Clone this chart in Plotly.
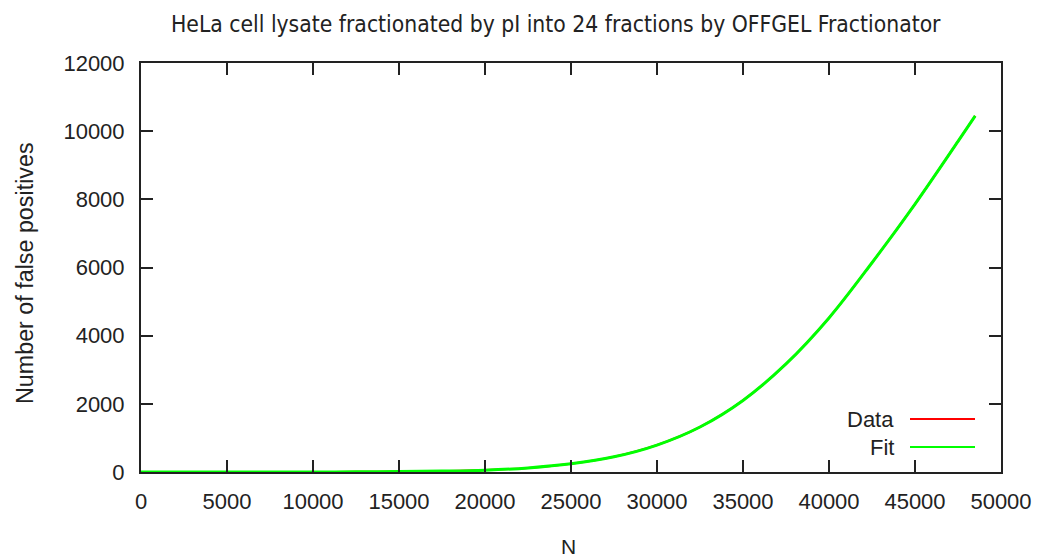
import plotly.graph_objects as go

# Data
n_values = [0, 2500, 5000, 7500, 10000, 12500, 15000, 17500, 20000, 22500, 25000,
            27500, 30000, 32500, 35000, 37500, 40000, 42500, 45000, 47500, 48500]
data_fp = [0, 0, 0, 1, 2, 5, 12, 28, 56, 121, 242,
           446, 790, 1320, 2100, 3170, 4520, 6140, 7860, 9700, 10450]
fit_fp = [0, 0, 0, 1, 2, 5, 12, 27, 55, 120, 240,
          445, 790, 1320, 2100, 3170, 4520, 6140, 7860, 9700, 10450]

x_ticks = [0, 5000, 10000, 15000, 20000, 25000, 30000, 35000, 40000, 45000, 50000]
y_ticks = [0, 2000, 4000, 6000, 8000, 10000, 12000]

title_text = "HeLa cell lysate fractionated by pI into 24 fractions by OFFGEL Fractionator"
x_title = "N"
y_title = "Number of false positives"
legend_names = ["Data", "Fit"]
line_colors = ["#ff0000", "#00ff00"]

W, H = 1038, 557
ml, mr, mt, mb = 141, 37, 63, 85

fig = go.Figure()
fig.add_trace(go.Scatter(x=n_values, y=data_fp, mode="lines", name=legend_names[0],
                         line=dict(color=line_colors[0], width=2, shape="spline")))
fig.add_trace(go.Scatter(x=n_values, y=fit_fp, mode="lines", name=legend_names[1],
                         line=dict(color=line_colors[1], width=3, shape="spline")))

axis_common = dict(showgrid=False, zeroline=False, showline=True, linecolor="#222",
                   linewidth=2, mirror="ticks", ticks="inside", ticklen=12,
                   tickwidth=2, tickcolor="#222", automargin=False,
                   tickfont=dict(family="Liberation Sans", size=22, color="#222"))

fig.update_layout(
    width=W, height=H,
    margin=dict(l=ml, r=mr, t=mt, b=mb, autoexpand=False),
    paper_bgcolor="white", plot_bgcolor="white",
    showlegend=False,
    xaxis=dict(range=[0, 50000], tickvals=x_ticks, ticktext=[str(v) for v in x_ticks],
               ticklabelstandoff=9, **axis_common),
    yaxis=dict(range=[0, 12000], tickvals=y_ticks, ticktext=[str(v) for v in y_ticks],
               ticklabelstandoff=10, **axis_common),
)

pw, ph = W - ml - mr, H - mt - mb

# Title
fig.add_annotation(text=title_text, xref="paper", yref="paper",
                   x=(556 - ml) / pw, y=1 + (63 - 24) / ph,
                   xanchor="center", yanchor="middle", showarrow=False,
                   font=dict(family="DejaVu Sans Condensed", size=22.7, color="#222"))
# Axis titles
fig.add_annotation(text=x_title, xref="paper", yref="paper",
                   x=(568 - ml) / pw, y=-(546 - 472) / ph,
                   xanchor="center", yanchor="middle", showarrow=False,
                   font=dict(family="Liberation Sans", size=21, color="#222"))
fig.add_annotation(text=y_title, xref="paper", yref="paper",
                   x=-(141 - 25) / pw, y=(472 - 273) / ph,
                   xanchor="center", yanchor="middle", showarrow=False, textangle=-90,
                   font=dict(family="Liberation Sans", size=23.3, color="#222"))

# Gnuplot-style legend (text left, sample line right)
for i, (name, col) in enumerate(zip(legend_names, line_colors)):
    ypx = 419 + i * 28
    yp = (472 - ypx) / ph
    fig.add_annotation(text=name, xref="paper", yref="paper",
                       x=(896 - ml) / pw, y=yp, xanchor="right", yanchor="middle",
                       showarrow=False,
                       font=dict(family="Liberation Sans", size=22, color="#222"))
    fig.add_shape(type="line", xref="paper", yref="paper",
                  x0=(910 - ml) / pw, x1=(975 - ml) / pw, y0=yp, y1=yp,
                  line=dict(color=col, width=2))

fig.write_html("out.html")
